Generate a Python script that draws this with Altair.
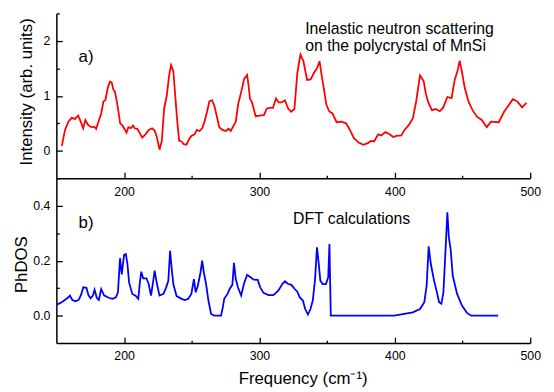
import altair as alt
import pandas as pd

# ---- data ----
freq_ins = [154.0, 156.4, 158.9, 161.3, 163.7, 166.1, 168.0, 169.8, 171.4, 173.4, 175.8, 177.8, 179.4,
            181.1, 183.1, 184.8, 186.2, 188.0, 189.6, 190.9, 192.0, 193.3, 194.7, 195.9, 197.1, 198.9,
            200.0, 201.8, 203.2, 204.9, 206.6, 207.8, 209.8, 211.4, 213.4, 215.8, 218.2, 220.7, 222.6,
            224.3, 226.2, 227.9, 229.6, 231.6, 233.2, 234.7, 236.4, 237.6, 239.3, 240.7, 242.5, 244.1,
            246.1, 248.0, 249.7, 252.1, 253.8, 255.8, 257.7, 259.4, 261.3, 263.0, 264.9, 266.6, 268.3,
            270.3, 272.7, 275.2, 277.1, 278.8, 280.5, 282.5, 284.4, 286.8, 288.7, 290.9, 291.8, 293.0,
            294.5, 297.2, 300.1, 303.3, 305.4, 308.0, 310.0, 312.2, 314.2, 316.3, 318.8, 321.2, 323.4,
            325.8, 328.0, 330.3, 332.5, 335.2, 337.8, 340.3, 342.5, 344.4, 346.2, 348.0, 349.3, 351.5,
            353.9, 357.0, 360.5, 364.0, 366.8, 369.8, 373.3, 376.7, 380.0, 382.5, 384.7, 387.7, 390.0,
            393.1, 396.1, 398.8, 401.2, 404.8, 407.2, 410.4, 413.3, 415.7, 418.6, 421.3, 422.9, 424.7,
            427.4, 430.3, 433.2, 435.6, 438.8, 441.9, 444.3, 446.3, 447.9, 449.7, 451.6, 454.5, 457.4,
            460.6, 464.2, 467.9, 471.0, 476.8, 480.7, 484.1, 487.2, 490.4, 494.0, 497.2]
intensity = [0.09, 0.38, 0.53, 0.60, 0.58, 0.64, 0.53, 0.41, 0.56, 0.47, 0.43, 0.44, 0.40,
             0.53, 0.68, 0.90, 0.92, 1.15, 1.26, 1.24, 1.12, 1.07, 0.89, 0.71, 0.50, 0.46,
             0.41, 0.33, 0.43, 0.41, 0.46, 0.41, 0.40, 0.33, 0.24, 0.30, 0.38, 0.41, 0.37,
             0.24, 0.02, 0.18, 0.77, 1.01, 1.36, 1.56, 1.45, 1.07, 0.53, 0.18, 0.17, 0.12,
             0.11, 0.21, 0.27, 0.30, 0.38, 0.36, 0.41, 0.53, 0.71, 0.90, 0.92, 0.83, 0.65,
             0.43, 0.38, 0.36, 0.40, 0.36, 0.44, 0.53, 0.86, 1.10, 1.31, 1.38, 1.22, 0.95,
             0.88, 0.63, 0.64, 0.65, 0.77, 0.78, 0.78, 0.95, 0.88, 0.88, 0.92, 0.77, 0.71,
             0.76, 1.42, 1.75, 1.63, 1.29, 1.30, 1.42, 1.50, 1.63, 1.33, 1.07, 0.85, 0.72,
             0.68, 0.52, 0.53, 0.50, 0.38, 0.23, 0.15, 0.11, 0.14, 0.18, 0.17, 0.30, 0.28,
             0.34, 0.30, 0.25, 0.27, 0.28, 0.38, 0.47, 0.59, 0.89, 1.37, 1.27, 1.04, 0.88,
             0.74, 0.76, 0.72, 0.78, 0.98, 0.96, 1.30, 1.45, 1.64, 1.42, 1.15, 0.89, 0.74,
             0.62, 0.56, 0.43, 0.53, 0.52, 0.71, 0.83, 0.94, 0.90, 0.79, 0.87]

freq_dft = [150.4, 154.0, 156.5, 158.9, 160.0, 161.8, 164.2, 166.6, 168.5, 169.8, 172.2, 173.8, 175.3,
            177.0, 178.2, 179.9, 181.4, 183.1, 185.2, 188.5, 191.6, 194.0, 195.5, 197.0, 198.3, 200.0,
            201.3, 202.5, 203.7, 206.1, 208.5, 210.5, 211.7, 212.7, 214.1, 216.5, 218.2, 219.9, 221.4,
            222.6, 224.3, 226.2, 229.1, 231.1, 232.7, 234.0, 235.2, 236.4, 238.8, 242.5, 244.9, 247.3,
            249.7, 251.6, 252.9, 254.5, 256.5, 257.7, 258.9, 260.6, 262.3, 264.3, 266.7, 271.6, 272.7,
            274.0, 276.4, 278.3, 280.0, 281.2, 282.5, 284.1, 286.5, 288.5, 290.9, 293.4, 295.8, 298.7,
            300.6, 303.0, 306.7, 310.3, 313.9, 316.9, 318.8, 321.2, 323.6, 326.1, 328.0, 329.7, 332.1,
            333.8, 335.8, 337.7, 339.4, 341.1, 342.5, 343.7, 345.0, 346.7, 349.1, 350.8, 351.7, 352.7,
            399.5, 413.3, 418.6, 421.8, 423.5, 425.0, 426.6, 429.0, 430.8, 432.7, 434.4, 435.9, 437.0,
            438.8, 439.9, 441.2, 442.8, 446.0, 449.7, 453.3, 456.4, 476.3]
phdos = [0.040, 0.049, 0.058, 0.067, 0.073, 0.057, 0.052, 0.058, 0.079, 0.103, 0.101, 0.073, 0.063,
         0.073, 0.094, 0.064, 0.057, 0.097, 0.074, 0.065, 0.061, 0.067, 0.085, 0.209, 0.150, 0.221,
         0.224, 0.188, 0.121, 0.079, 0.073, 0.061, 0.121, 0.160, 0.136, 0.136, 0.115, 0.073, 0.121,
         0.164, 0.115, 0.073, 0.079, 0.103, 0.127, 0.236, 0.170, 0.115, 0.071, 0.061, 0.057, 0.061,
         0.079, 0.133, 0.085, 0.109, 0.158, 0.200, 0.158, 0.115, 0.055, 0.006, 0.000, 0.000, 0.024,
         0.061, 0.079, 0.100, 0.112, 0.192, 0.133, 0.103, 0.073, 0.115, 0.148, 0.140, 0.131, 0.130,
         0.103, 0.083, 0.075, 0.075, 0.091, 0.115, 0.125, 0.115, 0.112, 0.097, 0.087, 0.067, 0.055,
         0.024, 0.004, 0.024, 0.055, 0.133, 0.249, 0.194, 0.127, 0.115, 0.115, 0.140, 0.261, 0.000,
         0.000, 0.012, 0.024, 0.049, 0.109, 0.252, 0.188, 0.127, 0.091, 0.049, 0.043, 0.085, 0.194,
         0.376, 0.285, 0.243, 0.145, 0.079, 0.036, 0.010, 0.000, 0.000]

x_major = [200, 300, 400, 500]
x_minor = [250, 350, 450]
ins_major = [0, 1, 2]
ins_minor = [0.5, 1.5, 2.5]
dos_major = [0.0, 0.2, 0.4]
dos_minor = [0.1, 0.3, 0.5]

top_label_text = ["Inelastic neutron scattering", "on the polycrystal of MnSi"]
top_label_f = [333.8, 333.8]
top_label_v = [2.22, 1.90]
top_panel_tag = ["a)"]
top_tag_f = [166.4]
top_tag_v = [1.70]

bot_label_text = ["DFT calculations"]
bot_label_f = [324.8]
bot_label_v = [0.352]
bot_panel_tag = ["b)"]
bot_tag_f = [166.4]
bot_tag_v = [0.336]

FONT = "Liberation Sans, Arial, sans-serif"
W = 480
H_TOP = 167
H_BOT = 167
H = H_TOP + H_BOT

df_ins = pd.DataFrame({"f": freq_ins, "v": intensity})
df_dft = pd.DataFrame({"f": freq_dft, "v": phdos})
df_top_lbl = pd.DataFrame({"f": top_label_f, "v": top_label_v, "t": top_label_text})
df_top_tag = pd.DataFrame({"f": top_tag_f, "v": top_tag_v, "t": top_panel_tag})
df_bot_lbl = pd.DataFrame({"f": bot_label_f, "v": bot_label_v, "t": bot_label_text})
df_bot_tag = pd.DataFrame({"f": bot_tag_f, "v": bot_tag_v, "t": bot_panel_tag})


def xscale():
    return alt.Scale(domain=[150, 500], nice=False, zero=False)


def yscale_top():
    return alt.Scale(domain=[-0.5, 2.5], range=[H_TOP, 0], nice=False, zero=False)


def yscale_bot():
    return alt.Scale(domain=[-0.1, 0.5], range=[H, H_TOP], nice=False, zero=False)


MAJ = {"expr": "-6"}
MIN = {"expr": "-3"}

# top panel: line with major axes
top_line = alt.Chart(df_ins).mark_line(color="#ff0000", strokeWidth=1.8).encode(
    x=alt.X("f:Q", scale=xscale(), axis=alt.Axis(
        orient="bottom", offset=-H_BOT, values=x_major, tickSize=MAJ, labelPadding=13,
        format="d", labelFlush=False, labelOverlap=False, title=None)),
    y=alt.Y("v:Q", scale=yscale_top(), axis=alt.Axis(
        orient="left", values=ins_major, format="d", tickSize=MAJ, labelPadding=12.5,
        labelFlush=False, labelOverlap=False, title="Intensity (arb. units)",
        titleX=-21, titleY=79)),
)
top_minor = alt.Chart(df_ins).mark_line(strokeOpacity=0).encode(
    x=alt.X("f:Q", scale=xscale(), axis=alt.Axis(
        orient="bottom", offset=-H_BOT, values=x_minor, tickSize=MIN, labels=False,
        domain=False, title=None)),
    y=alt.Y("v:Q", scale=yscale_top(), axis=alt.Axis(
        orient="left", values=ins_minor, tickSize=MIN, labels=False, domain=False, title=None)),
)
top_text = alt.Chart(df_top_lbl).mark_text(
    align="left", baseline="middle", font=FONT, fontSize=16, color="black").encode(
    x=alt.X("f:Q", scale=xscale(), axis=None),
    y=alt.Y("v:Q", scale=yscale_top(), axis=None),
    text="t:N")
top_tag = alt.Chart(df_top_tag).mark_text(
    align="left", baseline="middle", font=FONT, fontSize=17, color="black").encode(
    x=alt.X("f:Q", scale=xscale(), axis=None),
    y=alt.Y("v:Q", scale=yscale_top(), axis=None),
    text="t:N")

# bottom panel
bot_line = alt.Chart(df_dft).mark_line(color="#0000ff", strokeWidth=1.8).encode(
    x=alt.X("f:Q", scale=xscale(), axis=alt.Axis(
        orient="bottom", values=x_major, tickSize=MAJ, labelPadding=13, format="d",
        labelFlush=False, labelOverlap=False, title="Frequency (cm\u207b\u00b9)",
        titleX=249.5, titlePadding=8)),
    y=alt.Y("v:Q", scale=yscale_bot(), axis=alt.Axis(
        orient="left", values=dos_major, format=".1f", tickSize=MAJ, labelPadding=12.5,
        labelFlush=False, labelOverlap=False, title="PhDOS", titleX=-26, titleY=254)),
)
bot_minor = alt.Chart(df_dft).mark_line(strokeOpacity=0).encode(
    x=alt.X("f:Q", scale=xscale(), axis=alt.Axis(
        orient="bottom", values=x_minor, tickSize=MIN, labels=False, domain=False, title=None)),
    y=alt.Y("v:Q", scale=yscale_bot(), axis=alt.Axis(
        orient="left", values=dos_minor, tickSize=MIN, labels=False, domain=False, title=None)),
)
bot_text = alt.Chart(df_bot_lbl).mark_text(
    align="left", baseline="middle", font=FONT, fontSize=16, color="black").encode(
    x=alt.X("f:Q", scale=xscale(), axis=None),
    y=alt.Y("v:Q", scale=yscale_bot(), axis=None),
    text="t:N")
bot_tag = alt.Chart(df_bot_tag).mark_text(
    align="left", baseline="middle", font=FONT, fontSize=17, color="black").encode(
    x=alt.X("f:Q", scale=xscale(), axis=None),
    y=alt.Y("v:Q", scale=yscale_bot(), axis=None),
    text="t:N")

chart = (
    alt.layer(top_minor, bot_minor, top_line, bot_line, top_text, top_tag, bot_text, bot_tag)
    .resolve_scale(x="independent", y="independent")
    .resolve_axis(x="independent", y="independent")
    .properties(width=W, height=H,
                padding={"left": 5, "top": 2, "right": 5, "bottom": 0}, background="white")
    .configure_view(stroke=None)
    .configure_axis(
        grid=False,
        domainColor="black",
        tickColor="black",
        labelColor="black",
        titleColor="black",
        labelFont=FONT,
        titleFont=FONT,
        labelFontSize=12.5,
        titleFontSize=17,
        titleFontWeight="normal",
        domainWidth=1.5,
        tickWidth=1.3,
    )
)

chart.save("out.html", embed_options={"renderer": "svg", "actions": False})
